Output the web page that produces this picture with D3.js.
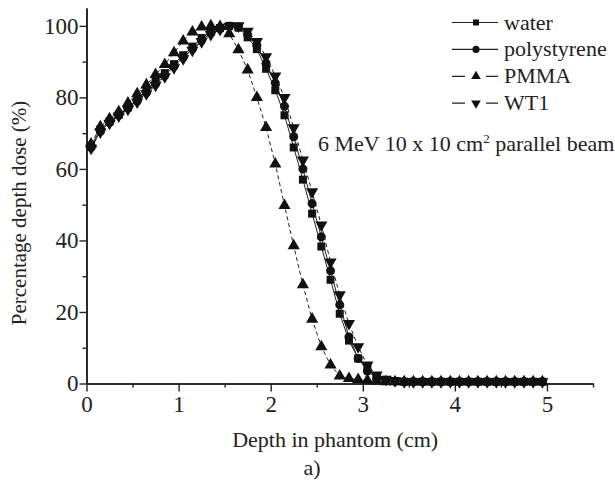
<!DOCTYPE html>
<html><head><meta charset="utf-8">
<script src="https://cdn.jsdelivr.net/npm/d3@7"></script>
<style>body{margin:0;background:#fff}svg{display:block}svg text{font-family:'Liberation Serif','Times New Roman',Times,'DejaVu Serif',serif !important;fill:#222}</style>
</head><body><svg id="c" width="615" height="491"></svg>
<script>
const depth = [0.05,0.15,0.25,0.35,0.45,0.55,0.65,0.75,0.85,0.95,1.05,1.15,1.25,1.35,1.45,1.55,1.65,1.75,1.85,1.95,2.05,2.15,2.25,2.35,2.45,2.55,2.65,2.75,2.85,2.95,3.05,3.15,3.25,3.35,3.45,3.55,3.65,3.75,3.85,3.95,4.05,4.15,4.25,4.35,4.45,4.55,4.65,4.75,4.85,4.95];
const water = [66.5,71,73.3,75.2,77.2,79.5,81.8,84.3,86.8,89.3,91.8,94.2,96.6,98.4,99.4,100,99.5,96.8,93.5,88,82,75,66,57,47.5,38.3,29,19.5,12,7,4.5,2,1,0.7,0.5,0.5,0.5,0.5,0.5,0.5,0.5,0.5,0.5,0.5,0.5,0.5,0.5,0.5,0.5,0.5];
const polystyrene = [66,70.5,73,75,77,79,81.3,83.8,86.2,88.7,91.2,93.6,96,98,99.2,99.9,99.7,97.5,94.5,89.5,84,77.5,69,60,50.3,41,31.5,22,13,7,3.5,1.5,0.8,0.6,0.5,0.5,0.5,0.5,0.5,0.5,0.5,0.5,0.5,0.5,0.5,0.5,0.5,0.5,0.5,0.5];
const pmma = [67,71.8,74,76,78.4,81,83.5,86.4,89.2,92.5,95.8,98.3,99.7,100,99.8,97.8,93.3,87.7,80,71.6,61.4,49.8,38.5,27.6,18,10.3,5.2,2.1,1.4,1.1,0.9,0.7,0.5,0.5,0.5,0.5,0.5,0.5,0.5,0.5,0.5,0.5,0.5,0.5,0.5,0.5,0.5,0.5,0.5,0.5];
const wt1 = [65.8,70.3,72.8,74.8,76.7,78.7,81,83.4,85.8,88.3,90.8,93.2,95.6,97.6,99,99.8,100,98.5,95.6,91.4,86,80,71.5,62.5,53.6,44.3,34,24.8,16.8,10.3,5.2,2.4,1.2,0.8,0.5,0.5,0.5,0.5,0.5,0.5,0.5,0.5,0.5,0.5,0.5,0.5,0.5,0.5,0.5,0.5];
const seriesNames = ["water","polystyrene","PMMA","WT1"];
const xTicks = [0,1,2,3,4,5];
const yTicks = [0,20,40,60,80,100];
const xLabel = "Depth in phantom (cm)";
const yLabel = "Percentage depth dose (%)";
const caption = "a)";

const series = [
  {name: seriesNames[0], values: water, sym: d3.symbolSquare, dash: null},
  {name: seriesNames[1], values: polystyrene, sym: d3.symbolCircle, dash: null},
  {name: seriesNames[2], values: pmma, sym: d3.symbolTriangle, dash: "4,3"},
  {name: seriesNames[3], values: wt1, sym: d3.symbolTriangle, dash: "4,3", flip: true}
];

const svg = d3.select("#c");
const x = d3.scaleLinear().domain([0,5.5]).range([86.5,593]);
const y = d3.scaleLinear().domain([0,105]).range([383.5,8]);
const FS = 22;

const xAxis = d3.axisBottom(x).tickValues(xTicks).tickFormat(d3.format("d")).tickSize(8).tickSizeOuter(0).tickPadding(4);
const xMinor = d3.axisBottom(x).tickValues(d3.range(0.5,5.6,1)).tickFormat("").tickSize(4).tickSizeOuter(0);
const yAxis = d3.axisLeft(y).tickValues(yTicks).tickFormat(d3.format("d")).tickSize(7).tickSizeOuter(0).tickPadding(1);
const yMinor = d3.axisLeft(y).tickValues(d3.range(10,100,20)).tickFormat("").tickSize(4).tickSizeOuter(0);

function style(g){
  g.attr("font-family",null).attr("font-size",null);
  g.selectAll("path.domain").attr("stroke","#222").attr("stroke-width",1.6);
  g.selectAll(".tick line").attr("stroke","#222").attr("stroke-width",1.4);
  g.selectAll(".tick text").attr("font-size",23).attr("fill","#222");
}
svg.append("g").attr("transform","translate(0,383.5)").call(xMinor).call(style);
svg.append("g").attr("transform","translate(0,383.5)").call(xAxis).call(style);
svg.append("g").attr("transform","translate(86.5,0)").call(yMinor).call(style);
svg.append("g").attr("transform","translate(86.5,0)").call(yAxis).call(style);

const line = d3.line().x((d,i)=>x(depth[i])).y(d=>y(d));
series.forEach(s=>{
  svg.append("path").attr("d",line(s.values)).attr("fill","none").attr("stroke","#222")
    .attr("stroke-width",1).attr("stroke-dasharray",s.dash);
  svg.append("g").selectAll("path").data(s.values).join("path")
    .attr("d",d3.symbol(s.sym,64))
    .attr("transform",(d,i)=>`translate(${x(depth[i])},${y(d)})${s.flip?" rotate(180)":""}`)
    .attr("fill","#111");
});

const lg = svg.append("g");
series.forEach((s,i)=>{
  const yy = 22.5 + i*26.9;
  lg.append("line").attr("x1",452).attr("x2",498).attr("y1",yy).attr("y2",yy)
    .attr("stroke","#222").attr("stroke-width",1.2).attr("stroke-dasharray",s.dash?"13,21,12":null);
  const sz = s.sym===d3.symbolSquare?36:40;
  lg.append("path").attr("d",d3.symbol(s.sym,sz)).attr("transform",`translate(476,${yy})${s.flip?" rotate(180)":""}`).attr("fill","#111");
  lg.append("text").attr("x",504).attr("y",yy+7).attr("font-size",FS).text(s.name);
});

const ann = svg.append("text").attr("x",318).attr("y",151).attr("font-size",FS);
ann.append("tspan").text("6 MeV 10 x 10 cm");
ann.append("tspan").attr("dy",-8).attr("font-size",13).text("2");
ann.append("tspan").attr("dy",8).text(" parallel beam");

svg.append("text").attr("x",x(2.7)).attr("y",447).attr("text-anchor","middle").attr("font-size",FS).text(xLabel);
svg.append("text").attr("transform","translate(26,213) rotate(-90)").attr("text-anchor","middle").attr("font-size",21).text(yLabel);
svg.append("text").attr("x",x(2.45)).attr("y",475).attr("text-anchor","middle").attr("font-size",FS).text(caption);
</script></body></html>
